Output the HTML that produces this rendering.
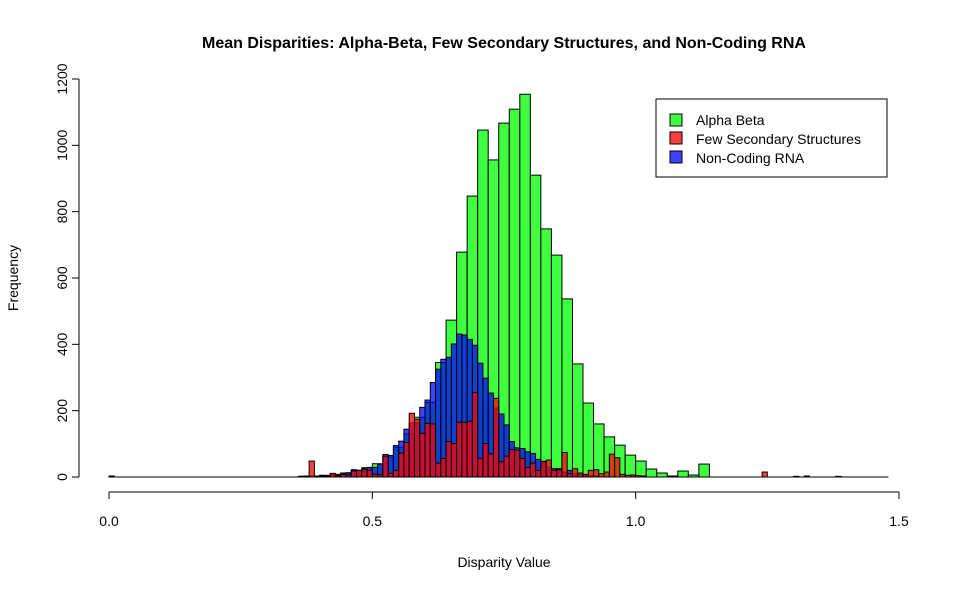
<!DOCTYPE html>
<html><head><meta charset="utf-8"><style>
body{margin:0;background:#fff;}
svg{display:block;font-family:"Liberation Sans",Arial,sans-serif;}
</style></head><body>
<svg id="chart" width="970" height="591">
<text x="504" y="48" text-anchor="middle" font-weight="bold" font-size="16">Mean Disparities: Alpha-Beta, Few Secondary Structures, and Non-Coding RNA</text>
<text x="504" y="567" text-anchor="middle" font-size="14">Disparity Value</text>
<text x="18" y="278" text-anchor="middle" font-size="14" transform="rotate(-90 18 278)">Frequency</text>
<g id="axes"></g>
<g id="bars"></g>
<g>
<rect x="656" y="99" width="231" height="78" fill="#fff" stroke="#000"/>
<rect x="670" y="114" width="12" height="12" fill="rgb(64,255,64)" stroke="#000"/>
<text x="696" y="125" font-size="14">Alpha Beta</text>
<rect x="670" y="132" width="12" height="12" fill="rgb(255,64,64)" stroke="#000"/>
<text x="696" y="144" font-size="14">Few Secondary Structures</text>
<rect x="670" y="151" width="12" height="12" fill="rgb(64,64,255)" stroke="#000"/>
<text x="696" y="163" font-size="14">Non-Coding RNA</text>
</g>
</svg>
<script>
const xTicks=[0,0.5,1.0,1.5];
const xTickLabels=["0.0","0.5","1.0","1.5"];
const yTicks=[0,200,400,600,800,1000,1200];
const greenBins=[0.36,0.38,0.40,0.42,0.44,0.46,0.48,0.50,0.52,0.54,0.56,0.58,0.60,0.62,0.64,0.66,0.68,0.70,0.72,0.74,0.76,0.78,0.80,0.82,0.84,0.86,0.88,0.90,0.92,0.94,0.96,0.98,1.00,1.02,1.04,1.06,1.08,1.10,1.12];
const greenCounts=[2,3,5,8,12,20,28,40,60,90,130,180,225,345,473,678,847,1046,956,1067,1109,1154,910,748,669,537,341,223,160,121,96,66,48,24,12,3,18,6,39];
const blueBins=[0.00,0.36,0.37,0.38,0.39,0.40,0.41,0.42,0.43,0.44,0.45,0.46,0.47,0.48,0.49,0.50,0.51,0.52,0.53,0.54,0.55,0.56,0.57,0.58,0.59,0.60,0.61,0.62,0.63,0.64,0.65,0.66,0.67,0.68,0.69,0.70,0.71,0.72,0.73,0.74,0.75,0.76,0.77,0.78,0.79,0.80,0.81,0.82,0.83,0.84,0.85,0.86,0.87,0.88,0.89,0.90,0.91,0.92,1.30,1.32,1.38];
const blueCounts=[3,2,3,3,2,5,4,8,6,11,13,22,20,25,29,29,39,68,65,95,108,144,163,163,210,232,285,325,355,361,401,431,428,415,397,343,298,253,208,190,157,107,88,86,76,71,53,47,30,25,25,15,20,10,8,5,4,3,2,3,2];
const redBins=[0.36,0.37,0.38,0.39,0.40,0.41,0.42,0.43,0.44,0.45,0.46,0.47,0.48,0.49,0.50,0.51,0.52,0.53,0.54,0.55,0.56,0.57,0.58,0.59,0.60,0.61,0.62,0.63,0.64,0.65,0.66,0.67,0.68,0.69,0.70,0.71,0.72,0.73,0.74,0.75,0.76,0.77,0.78,0.79,0.80,0.81,0.82,0.83,0.84,0.85,0.86,0.87,0.88,0.89,0.90,0.91,0.92,0.93,0.94,0.95,0.96,0.97,0.98,0.99,1.00,1.01,1.24];
const redCounts=[1,2,48,3,2,2,11,4,8,6,18,20,23,20,8,7,63,11,20,72,104,192,174,132,162,160,42,56,107,101,165,165,168,255,56,101,70,237,46,63,83,81,56,29,42,20,47,51,20,22,74,10,25,12,8,20,22,10,15,69,58,8,5,6,4,3,15];
const X=v=>109+v*526.667, Y=c=>477-c*0.33167;
const NS="http://www.w3.org/2000/svg";
const axes=document.getElementById('axes'), bars=document.getElementById('bars');
function mk(tag,attrs,parent){const e=document.createElementNS(NS,tag);for(const k in attrs)e.setAttribute(k,attrs[k]);parent.appendChild(e);return e;}
let l=mk('line',{x1:X(0),x2:X(1.5),y1:492,y2:492,stroke:'#000'},axes);


xTicks.forEach((t,i)=>{
 const tk=mk('line',{x1:X(t),x2:X(t),y1:492,y2:499,stroke:'#000'},axes);
 
 
 const tx=mk('text',{x:X(t),y:526,'text-anchor':'middle','font-size':14},axes);tx.textContent=xTickLabels[i];
 
 
});
l=mk('line',{x1:79,x2:79,y1:Y(0),y2:Y(1200),stroke:'#000'},axes);


yTicks.forEach(t=>{
 const tk=mk('line',{x1:72,x2:79,y1:Y(t),y2:Y(t),stroke:'#000'},axes);
 
 
 const y=Y(t);
 const tx=mk('text',{x:67,y:y,'text-anchor':'middle','font-size':14,transform:`rotate(-90 67 ${y})`},axes);tx.textContent=t;
 
 
});
function series(bins,counts,w,fill,name){
 bins.forEach((b,i)=>{
  const r=mk('rect',{x:X(b),y:Y(counts[i]),width:X(b+w)-X(b),height:Y(0)-Y(counts[i]),fill:fill,'fill-opacity':0.75,stroke:'#000','stroke-width':1},bars);
  
  
 });
}
series(greenBins,greenCounts,0.02,'rgb(0,255,0)','bar-alpha-beta');
series(blueBins,blueCounts,0.01,'rgb(0,0,255)','bar-non-coding-rna');
series(redBins,redCounts,0.01,'rgb(255,0,0)','bar-few-secondary');
const base=mk('line',{x1:X(0),x2:X(1.48),y1:Y(0),y2:Y(0),stroke:'#000'},bars);


</script>
</body></html>
